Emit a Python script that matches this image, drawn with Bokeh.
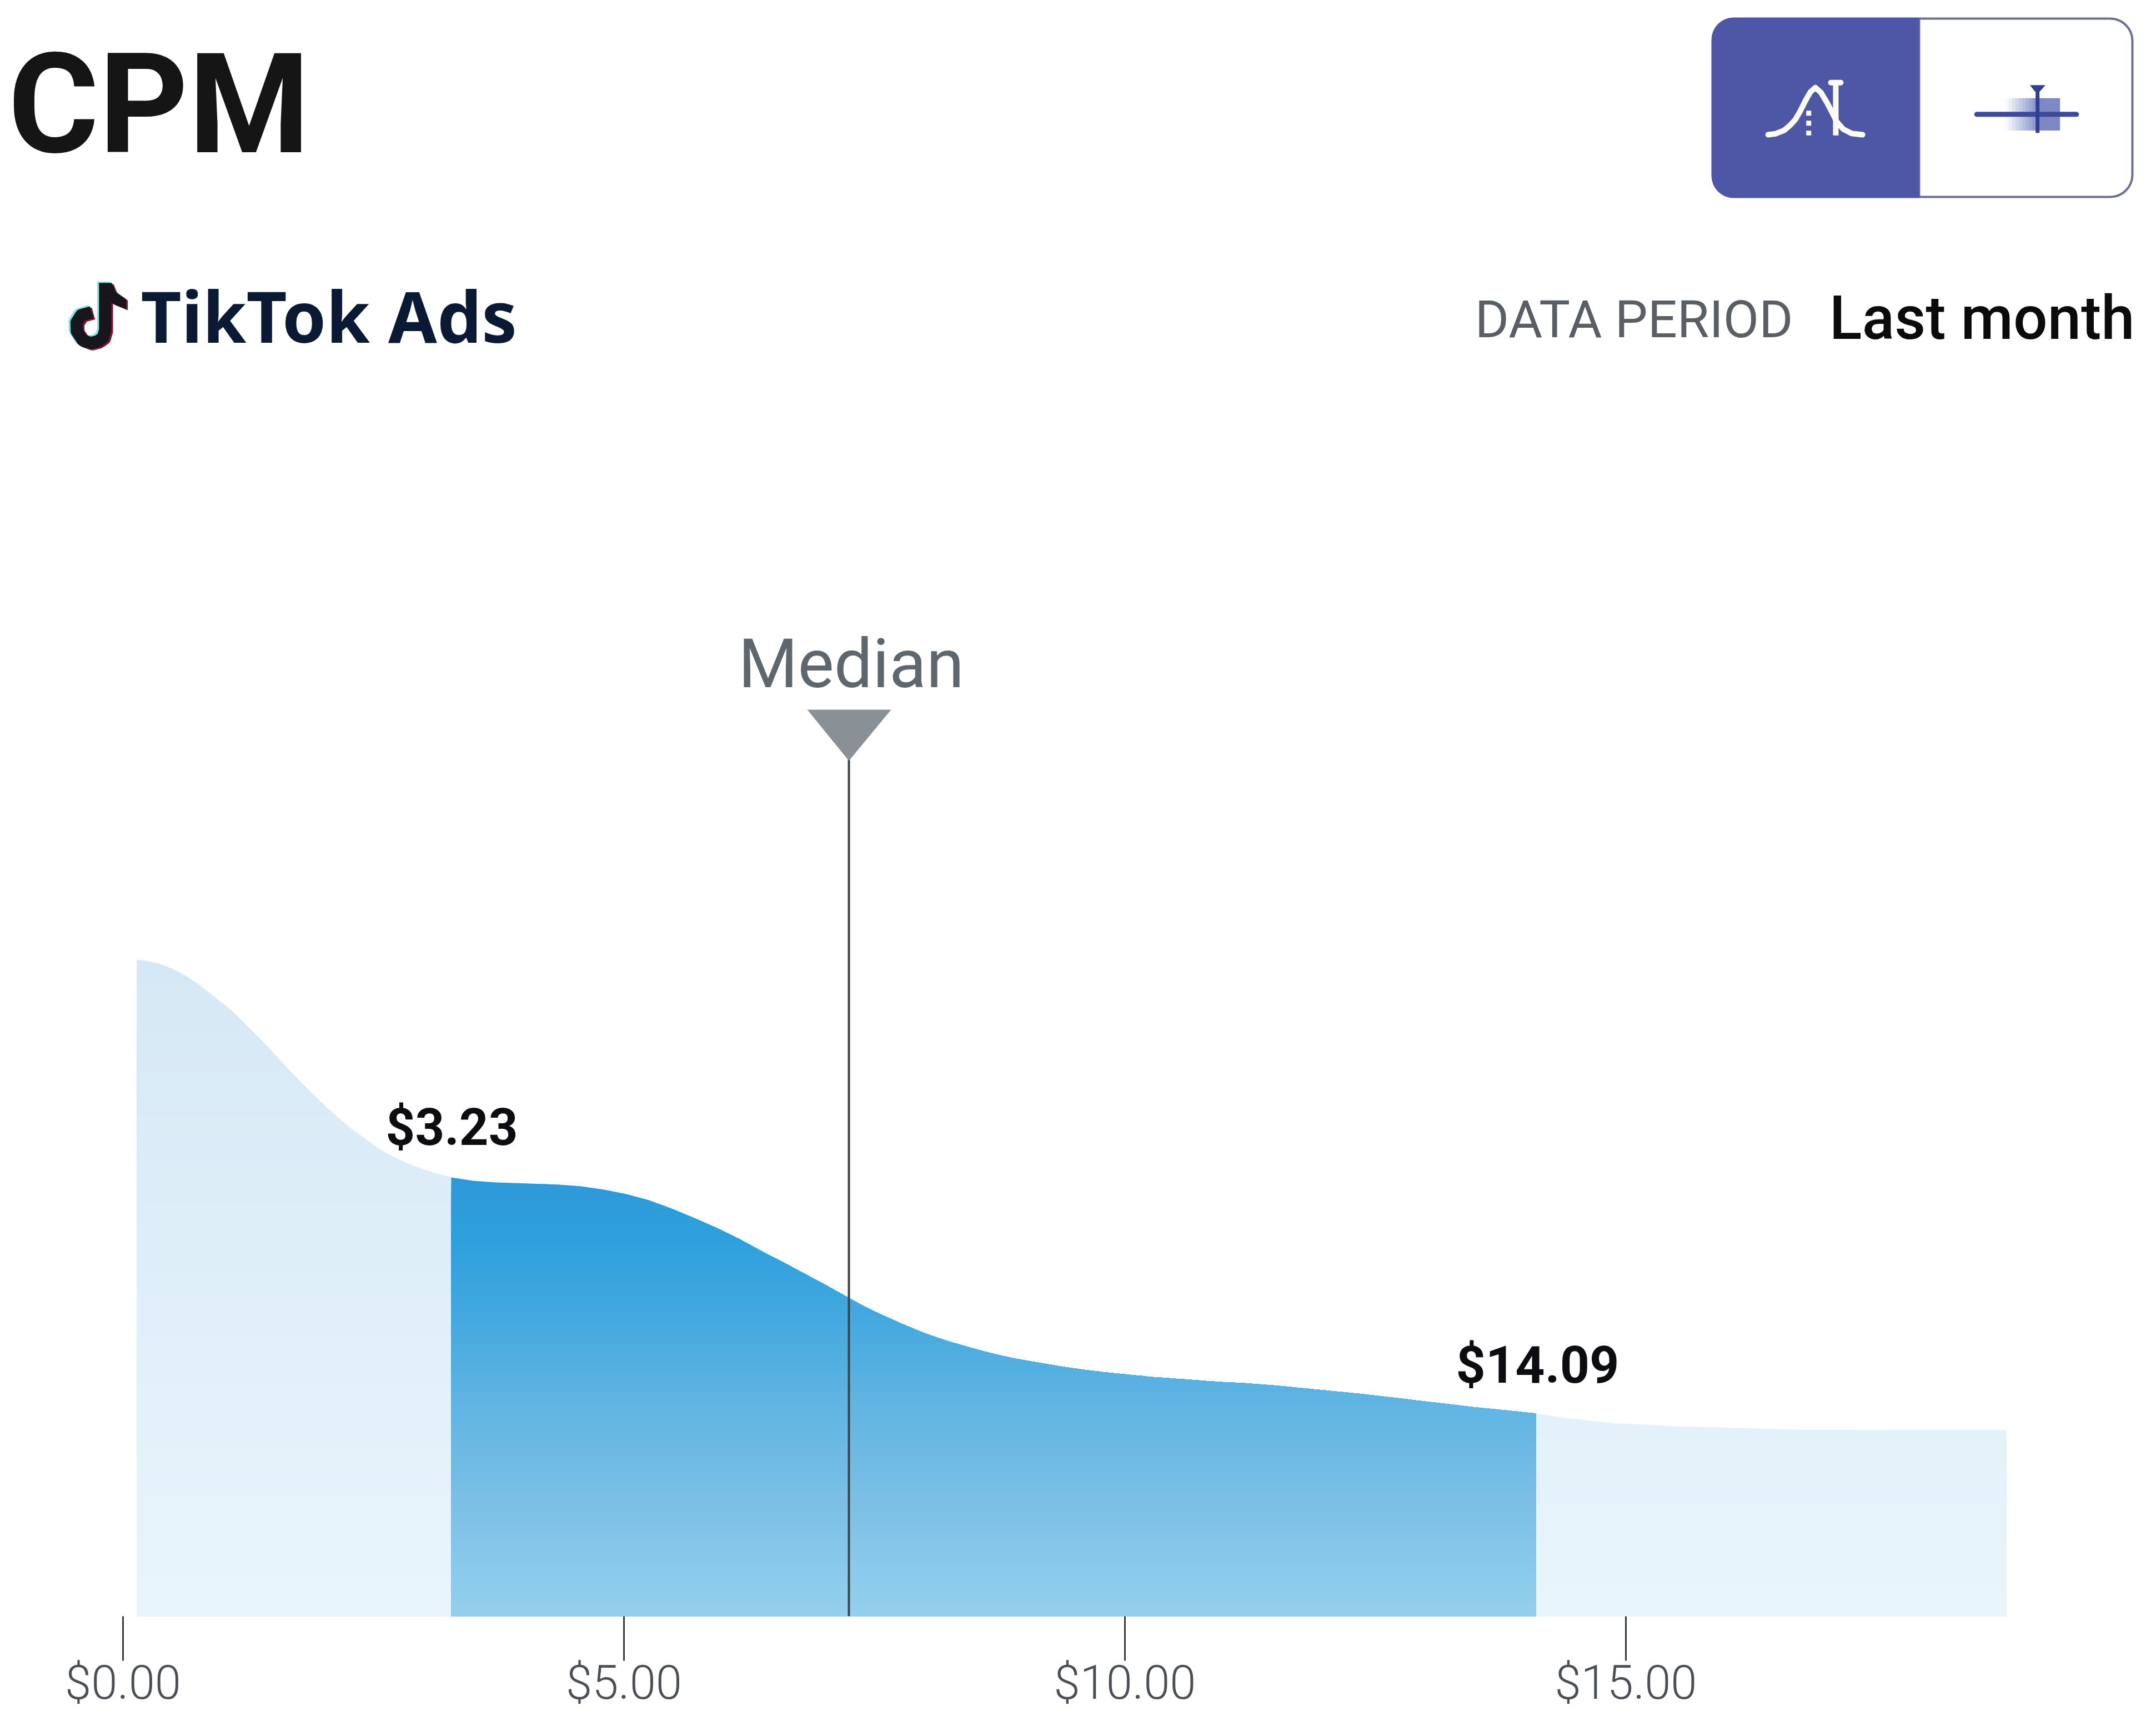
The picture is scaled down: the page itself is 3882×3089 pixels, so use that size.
from bokeh.plotting import figure
from bokeh.models import FixedTicker, Range1d, LinearAxis
from bokeh.embed import file_html
from bokeh.resources import INLINE
from bokeh.core.properties import value
import numpy as np

# ---------- data ----------
cpm = [0.137, 0.233, 0.360, 0.488, 0.615, 0.743, 0.848, 0.998, 1.125, 1.253, 1.380, 1.506, 1.633,
       1.760, 1.887, 2.012, 2.140, 2.267, 2.395, 2.522, 2.650, 2.777, 2.905, 3.032, 3.160, 3.276,
       3.492, 3.720, 4.058, 4.340, 4.568, 4.795, 5.019, 5.244, 5.471, 5.698, 5.926, 6.153, 6.375,
       6.602, 6.829, 7.056, 7.245, 7.373, 7.544, 7.766, 7.993, 8.220, 8.448, 8.675, 8.900, 9.124,
       9.351, 9.579, 9.806, 10.033, 10.255, 10.482, 10.710, 10.937, 11.164, 11.525, 11.807, 12.090,
       12.372, 12.655, 12.938, 13.220, 13.503, 13.786, 14.102, 14.351, 14.634, 14.917, 15.200,
       15.482, 15.959, 16.624, 17.761, 18.797]
density = [1182, 1180, 1175, 1166, 1154, 1139, 1124, 1103, 1083, 1060, 1037, 1013, 988,
           964, 941, 919, 898, 879, 862, 845, 831, 820, 810, 802, 795, 790,
           784, 781, 779, 777, 774, 768, 760, 749, 734, 717, 699, 679, 657,
           636, 614, 592, 573, 560, 545, 527, 510, 496, 484, 473, 464, 457,
           450, 444, 439, 435, 431, 428, 425, 422, 420, 415, 410, 405,
           400, 394, 388, 382, 376, 371, 365, 358, 352, 347, 345,
           342, 340, 336, 335, 335]
q1_pos = 3.276
q3_pos = 14.102
median_pos = 7.245
q_labels = ["$3.23", "$14.09"]
tick_values = [0, 5, 10, 15]
tick_labels = ["$0.00", "$5.00", "$10.00", "$15.00"]

W = 3866
X0, PX_PER_USD, BASE = 221.0, 180.4, 2909


def dx(X):
    return (np.asarray(X, dtype=float) - X0) / PX_PER_USD


def dy(Y):
    return BASE - np.asarray(Y, dtype=float)


p = figure(frame_width=W, frame_height=BASE, output_backend="svg", toolbar_location=None,
           x_range=Range1d(float(dx(0)), float(dx(W))), y_range=Range1d(0, BASE),
           min_border_left=0, min_border_right=0, min_border_top=0, min_border_bottom=0,
           x_axis_location=None, y_axis_location=None)
p.outline_line_color = None
p.grid.visible = False
p.background_fill_color = "white"
p.border_fill_color = "white"


def hexmix(stops, h):
    hs = [s[0] for s in stops]
    rgb = [[int(s[1][i:i + 2], 16) for s in stops] for i in (1, 3, 5)]
    return "#%02x%02x%02x" % tuple(int(round(np.interp(h, hs, c))) for c in rgb)


light = [(0, "#e9f5fc"), (350, "#e3f1fa"), (800, "#dcedf8"), (1182, "#d6e8f5")]
dark = [(0, "#94d0ee"), (200, "#7cc0e6"), (400, "#5db3e2"), (560, "#40a7df"),
        (680, "#2ea0dd"), (790, "#3098d8")]


def band(a, b, stops, step):
    xs = np.linspace(a, b, 900)
    ys = np.interp(xs, cpm, density)
    for lv in np.arange(ys.max(), 0, -step):
        p.varea(x=xs, y1=0 * xs, y2=np.minimum(ys, lv), color=hexmix(stops, lv - step / 2))


band(cpm[0], q1_pos, light, 40)
band(q3_pos, cpm[-1], light, 40)
band(q1_pos, q3_pos, dark, 12)

# median marker
p.segment(x0=[median_pos], y0=[0], x1=[median_pos], y1=[float(dy(1365))], line_color="#3f4345", line_width=4)
p.patch(x=[median_pos + float(dx(1453) - dx(1528)), median_pos + float(dx(1604) - dx(1528)), median_pos],
        y=[float(dy(1277)), float(dy(1277)), float(dy(1369))], fill_color="#899096", line_color=None)


def txt(X, Y, s, size, color, font="Roboto", style="normal", align="left", k=0.34):
    p.text(x=[float(dx(X))], y=[float(dy(Y - k * size))], text=[s], text_font=value(font),
           text_font_size=f"{size}px", text_font_style=style, text_color=color, text_align=align,
           text_baseline="alphabetic")


txt(1532, 1236, "Median", 123, "#5f676e", align="center")
txt(813, 2060, q_labels[0], 92, "#0b0d10", style="bold", align="center")
txt(2768, 2489, q_labels[1], 93, "#0b0d10", style="bold", align="center")
txt(14, 273, "CPM", 250, "#151515", style="bold")
txt(253, 615, "TikTok Ads", 127, "#0a1a35", font="Noto Sans", style="bold", k=0.375)
txt(3228, 606, "DATA PERIOD", 93.5, "#5a5f66", align="right")
txt(3843, 609, "Last month", 108.5, "#0b0b0b", font="Roboto Medium", align="right")

# axis
ax = LinearAxis(ticker=FixedTicker(ticks=tick_values),
                major_label_overrides={v: s for v, s in zip(tick_values, tick_labels)})
ax.axis_line_color = None
ax.major_tick_out = 80
ax.major_tick_in = 0
ax.minor_tick_line_color = None
ax.major_tick_line_color = "#3a3d40"
ax.major_tick_line_width = 3
ax.major_label_text_font = "Roboto Light"
ax.major_label_text_font_size = "85px"
ax.major_label_text_color = "#4a4f55"
ax.major_label_standoff = -11
p.add_layout(ax, "below")

# toggle
ZX = lambda v: 2950 + np.asarray(v, dtype=float) / 1.682
ZY = lambda v: np.asarray(v, dtype=float) / 2.24

p.quad(left=[float(dx(3455))], right=[float(dx(3839))], top=[float(dy(33))], bottom=[float(dy(354))],
       fill_color="white", line_color="#6c6f96", line_width=4, border_radius=(0, 40, 40, 0))
p.quad(left=[float(dx(3081))], right=[float(dx(3455))], top=[float(dy(31))], bottom=[float(dy(356))],
       fill_color="#4d57a5", line_color=None, border_radius=(40, 0, 0, 40))

bx = [392, 415, 440, 458, 475, 490, 505, 520, 535, 552, 570, 585, 600, 620, 645, 678]
by = [542, 538, 525, 505, 480, 445, 405, 370, 352, 372, 412, 450, 490, 520, 537, 542]
p.line(x=dx(ZX(bx)), y=dy(ZY(by)), line_color="#fbfbf4", line_width=10, line_join="round", line_cap="round")
p.line(x=dx(ZX([597, 597])), y=dy(ZY([335, 545])), line_color="#fbfbf4", line_width=10)
p.line(x=dx(ZX([582, 612])), y=dy(ZY([332, 332])), line_color="#fbfbf4", line_width=10, line_cap="round")
p.line(x=dx(ZX([515, 515])), y=dy(ZY([445, 545])), line_color="#fbfbf4", line_width=9, line_dash="9 9")

edges = np.linspace(1110, 1275, 17)
for i in range(16):
    t = min(1.0, (i + 0.5) / 10)
    col = hexmix([(0, "#ffffff"), (1, "#7d88c4")], t)
    p.quad(left=[float(dx(ZX(edges[i])))], right=[float(dx(ZX(edges[i + 1] + 1)))],
           top=[float(dy(ZY(395)))], bottom=[float(dy(ZY(525)))], fill_color=col, line_color=None)
p.line(x=dx(ZX([1024, 1326])), y=dy(ZY([460, 460])), line_color="#3b4a9a", line_width=9, line_cap="round")
p.line(x=dx(ZX([1208, 1208])), y=dy(ZY([350, 535])), line_color="#2f3f92", line_width=7)
p.patch(x=dx(ZX([1185, 1232, 1215, 1200])), y=dy(ZY([342, 342, 368, 368])), fill_color="#2f3f92", line_color=None)

# tiktok note
NX = lambda v: np.asarray(v, dtype=float) / 1.568
NY = lambda v: np.asarray(v, dtype=float) / 2.24
sx = [296, 296, 290, 275, 255, 232, 216, 215, 228, 258]
sy = [1140, 1330, 1360, 1375, 1382, 1370, 1335, 1300, 1270, 1258]
fx = [278, 315, 325, 355, 355, 320, 300]
fy = [1140, 1140, 1175, 1205, 1245, 1225, 1205]
for off, col in ((-5, "#7fe3ea"), (5, "#8a1030"), (0, "#16161c")):
    p.line(x=dx(NX(np.array(sx) + off)), y=dy(NY(np.array(sy) + off)), line_color=col, line_width=22, line_join="round")
    p.patch(x=dx(NX(np.array(fx) + off)), y=dy(NY(np.array(fy) + off)), fill_color=col, line_color=None)

open("out.html", "w").write(file_html(p, INLINE))
